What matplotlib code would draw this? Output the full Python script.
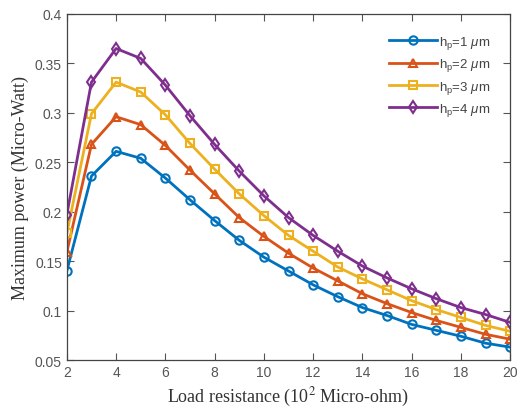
import numpy as np
import matplotlib
matplotlib.use('Agg')
import matplotlib.pyplot as plt

# load resistance (10^2 micro-ohm)
load_r = [2, 3, 4, 5, 6, 7, 8, 9, 10, 11, 12, 13, 14, 15, 16, 17, 18, 19, 20]

# maximum power (micro-watt) for each piezo thickness
p_h1 = [0.140, 0.236, 0.261, 0.254, 0.234, 0.212, 0.191, 0.171, 0.154, 0.140,
        0.126, 0.114, 0.103, 0.095, 0.086, 0.080, 0.074, 0.067, 0.063]
p_h2 = [0.159, 0.268, 0.296, 0.288, 0.267, 0.242, 0.218, 0.194, 0.175, 0.158,
        0.143, 0.130, 0.117, 0.107, 0.098, 0.090, 0.083, 0.076, 0.071]
p_h3 = [0.178, 0.299, 0.331, 0.321, 0.298, 0.269, 0.243, 0.218, 0.196, 0.176,
        0.160, 0.144, 0.132, 0.121, 0.110, 0.101, 0.093, 0.085, 0.079]
p_h4 = [0.197, 0.331, 0.365, 0.355, 0.328, 0.297, 0.268, 0.241, 0.216, 0.194,
        0.176, 0.160, 0.145, 0.133, 0.122, 0.112, 0.103, 0.096, 0.088]

labels = [r'h$_{\rm p}$=1 $\mu$m', r'h$_{\rm p}$=2 $\mu$m',
          r'h$_{\rm p}$=3 $\mu$m', r'h$_{\rm p}$=4 $\mu$m']
colors = ['#0072BD', '#D95319', '#EDB120', '#7E2F8E']
markers = ['o', '^', 's', 'd']

plt.rcParams['font.family'] = 'Liberation Sans'
plt.rcParams['mathtext.fontset'] = 'custom'
plt.rcParams['mathtext.rm'] = 'Liberation Sans'
plt.rcParams['mathtext.it'] = 'Liberation Sans:italic'

fig = plt.figure(figsize=(5.18, 4.14), dpi=100)
ax = fig.add_axes([0.129, 0.128, 0.856, 0.836])

for y, lab, c, mk in zip([p_h1, p_h2, p_h3, p_h4], labels, colors, markers):
    ax.plot(load_r, y, color=c, marker=mk, markersize=6, markerfacecolor='none',
            markeredgewidth=1.5, linewidth=2, label=lab)

ax.set_xlim(2, 20)
ax.set_ylim(0.05, 0.4)
ax.set_xticks(np.arange(2, 21, 2))
ax.set_yticks([0.05, 0.1, 0.15, 0.2, 0.25, 0.3, 0.35, 0.4])
ax.set_yticklabels(['0.05', '0.1', '0.15', '0.2', '0.25', '0.3', '0.35', '0.4'])

ax.tick_params(direction='in', top=True, right=True, labelsize=10,
               colors='#555555', length=5)
for s in ax.spines.values():
    s.set_color('#444444')
    s.set_linewidth(0.9)

ax.set_xlabel(r'Load resistance (10$^{2}$ Micro-ohm)', family='Liberation Serif',
              fontsize=13, color='#333333', math_fontfamily='stix')
ax.set_ylabel('Maximum power (Micro-Watt)', family='Liberation Serif',
              fontsize=13, color='#333333')

leg = ax.legend(loc='upper right', fontsize=9.5, frameon=False, handlelength=3.6,
                handletextpad=0.2, borderaxespad=0.6, labelspacing=0.4,
                bbox_to_anchor=(0.985, 0.98))
for t in leg.get_texts():
    t.set_color('#444444')

fig.savefig('out.png', dpi=100)
